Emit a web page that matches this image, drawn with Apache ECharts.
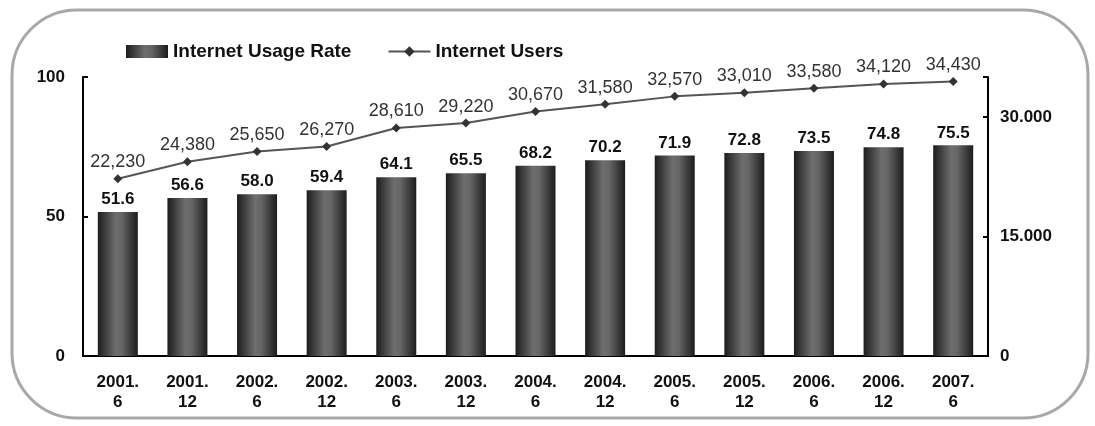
<!DOCTYPE html>
<html><head><meta charset="utf-8">
<script src="https://cdn.jsdelivr.net/npm/echarts@6/dist/echarts.min.js"></script>
<style>html,body{margin:0;padding:0;background:#fff}#c{width:1095px;height:426px}</style>
</head><body><div id="c"></div>
<script>
const categories = ["2001.\n6","2001.\n12","2002.\n6","2002.\n12","2003.\n6","2003.\n12","2004.\n6","2004.\n12","2005.\n6","2005.\n12","2006.\n6","2006.\n12","2007.\n6"];
const usageRate = [51.6,56.6,58.0,59.4,64.1,65.5,68.2,70.2,71.9,72.8,73.5,74.8,75.5];
const users = [22230,24380,25650,26270,28610,29220,30670,31580,32570,33010,33580,34120,34430];
const leftTicks = [0,50,100];
const rightTicks = [0,15000,30000];

const chart = echarts.init(document.getElementById('c'));
const barGrad = new echarts.graphic.LinearGradient(0,0,1,0,[
  {offset:0,color:'#1c1c1c'},{offset:0.45,color:'#6e6e6e'},{offset:0.6,color:'#666'},{offset:1,color:'#1c1c1c'}]);
chart.setOption({
  animation:false,
  backgroundColor:'#fff',
  textStyle:{fontFamily:'Liberation Sans, Arial, sans-serif'},
  graphic:[{type:'rect',shape:{x:12,y:10,width:1076,height:408,r:65},style:{fill:'none',stroke:'#a8a8a8',lineWidth:3},z:-1}],
  legend:{left:121,top:37,itemWidth:42,itemHeight:13,itemGap:36,
    textStyle:{fontSize:19,fontWeight:'bold',color:'#111'},
    data:[{name:'Internet Usage Rate',icon:'rect'},{name:'Internet Users'}]},
  grid:{left:83,right:107,top:77,bottom:70},
  xAxis:{type:'category',data:categories,
    axisLine:{lineStyle:{color:'#000',width:2}},axisTick:{show:false},
    axisLabel:{fontSize:17,fontWeight:'bold',color:'#111',lineHeight:20,margin:16}},
  yAxis:[
    {type:'value',min:0,max:100,interval:50,splitLine:{show:false},
     axisLine:{show:true,lineStyle:{color:'#000',width:2}},
     axisTick:{show:true,inside:true,length:5,lineStyle:{color:'#000',width:2}},
     axisLabel:{fontSize:17,fontWeight:'bold',color:'#111',margin:18,
       formatter:v=>leftTicks.includes(v)?String(v):''}},
    {type:'value',min:0,max:35000,interval:15000,splitLine:{show:false},
     axisLine:{show:true,lineStyle:{color:'#000',width:2}},
     axisTick:{show:true,inside:true,length:5,lineStyle:{color:'#000',width:2}},
     axisLabel:{fontSize:17,fontWeight:'bold',color:'#111',margin:12,
       formatter:v=>rightTicks.includes(v)?(v===0?'0':(v/1000).toFixed(3)):''}}
  ],
  series:[
    {name:'Internet Usage Rate',type:'bar',data:usageRate,barWidth:40,
     itemStyle:{color:barGrad},
     label:{show:true,position:'top',distance:4,fontSize:17,fontWeight:'bold',color:'#111',
       formatter:p=>p.value.toFixed(1)}},
    {name:'Internet Users',type:'line',yAxisIndex:1,data:users,
     lineStyle:{color:'#555',width:2},itemStyle:{color:'#333'},
     symbol:'diamond',symbolSize:9,
     label:{show:true,position:'top',distance:3,fontSize:18,color:'#333',
       formatter:p=>p.value.toLocaleString('en-US')}}
  ]
});
</script></body></html>
